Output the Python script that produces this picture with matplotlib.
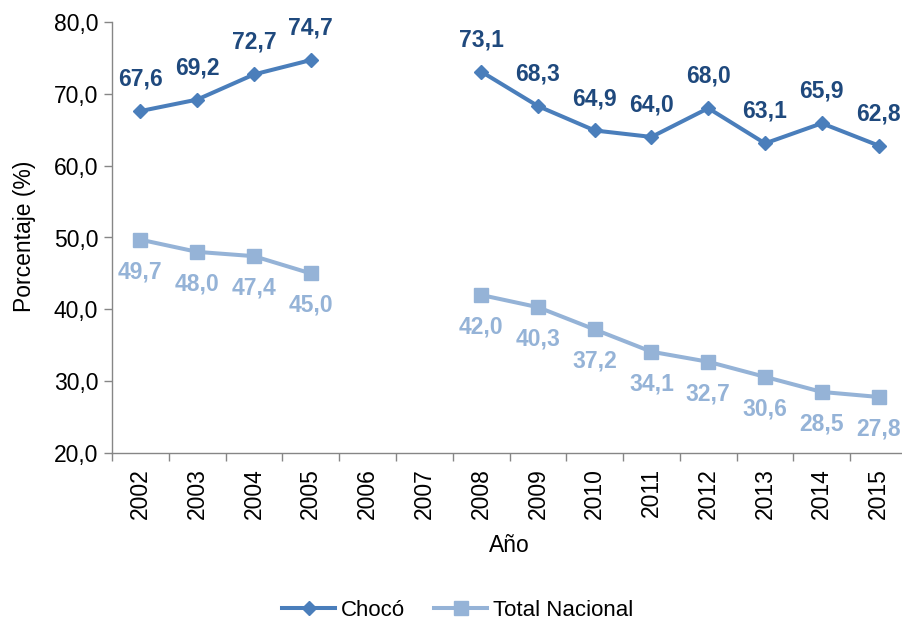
import numpy as np
import matplotlib
matplotlib.use("Agg")
import matplotlib.pyplot as plt

years = ["2002", "2003", "2004", "2005", "2006", "2007", "2008", "2009",
         "2010", "2011", "2012", "2013", "2014", "2015"]
choco = [67.6, 69.2, 72.7, 74.7, np.nan, np.nan, 73.1, 68.3, 64.9, 64.0, 68.0, 63.1, 65.9, 62.8]
nacional = [49.7, 48.0, 47.4, 45.0, np.nan, np.nan, 42.0, 40.3, 37.2, 34.1, 32.7, 30.6, 28.5, 27.8]
yticks = [20, 30, 40, 50, 60, 70, 80]

plt.rcParams['font.family'] = ['Liberation Sans', 'DejaVu Sans']

C_LINE = "#4A7EBB"
C_LAB = "#1F497D"
C_TN = "#95B3D7"
GRAY = "#868686"
FS = 16.5

fig = plt.figure(figsize=(9.02, 6.21), dpi=100)
ax = fig.add_axes([112/902, 1-453/621, 795/902, 431/621])

x = np.arange(len(years))
ax.plot(x, choco, color=C_LINE, lw=2.9, marker='D', ms=6.8, label='Chocó')
ax.plot(x, nacional, color=C_TN, lw=2.9, marker='s', ms=9.5, label='Total Nacional')

def fmt(v):
    return f"{v:.1f}".replace('.', ',')

for xi, v in zip(x, choco):
    if not np.isnan(v):
        ax.annotate(fmt(v), (xi, v), xytext=(0, 23), textcoords='offset points',
                    ha='center', va='center', fontsize=FS, fontweight='bold', color=C_LAB)
for xi, v in zip(x, nacional):
    if not np.isnan(v):
        ax.annotate(fmt(v), (xi, v), xytext=(0, -23), textcoords='offset points',
                    ha='center', va='center', fontsize=FS, fontweight='bold', color=C_TN)

ax.set_xlim(-0.5, len(years) - 0.5)
ax.set_ylim(20, 80)
ax.set_yticks(yticks)
ax.set_yticklabels([fmt(v) for v in yticks], fontsize=FS)
ax.set_xticks(x)
ax.set_xticklabels(years, rotation=90, fontsize=FS)
ax.set_xticks(np.arange(len(years) + 1) - 0.5, minor=True)
ax.tick_params(axis='x', which='major', length=0, pad=11)
ax.tick_params(axis='x', which='minor', length=6, color=GRAY, width=1)
ax.tick_params(axis='y', length=6, color=GRAY, width=1, pad=4)

for s in ['top', 'right']:
    ax.spines[s].set_visible(False)
for s in ['left', 'bottom']:
    ax.spines[s].set_color(GRAY)
    ax.spines[s].set_linewidth(1)

ax.set_ylabel('Porcentaje (%)', fontsize=FS, va='center')
ax.yaxis.set_label_coords((25 - 112) / 795, 0.503)
ax.set_xlabel('Año', fontsize=FS, va='center')
ax.xaxis.set_label_coords(0.5, (453 - 545) / 431)

fig.legend(loc='center', bbox_to_anchor=(457.5/902, 1 - 610/621), ncol=2, frameon=False,
           fontsize=16, handlelength=2.4, columnspacing=1.3, handletextpad=0.25,
           borderpad=0, borderaxespad=0)

fig.savefig('out.png', dpi=100)
